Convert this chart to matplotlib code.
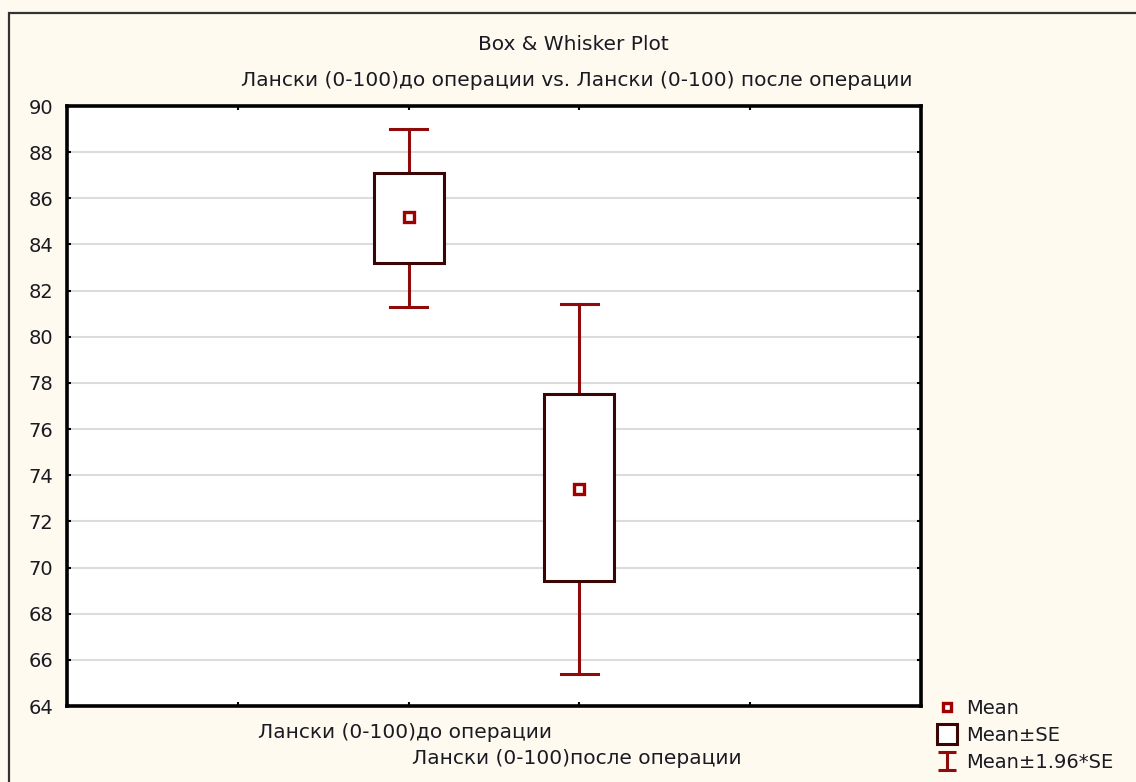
import matplotlib.pyplot as plt
from matplotlib.lines import Line2D
from matplotlib.path import Path
from matplotlib.patches import Rectangle

# values
labels = ['Лански (0-100)до операции', 'Лански (0-100)после операции']
positions = [2, 3]
means = [85.2, 73.4]
se_low = [83.2, 69.4]
se_high = [87.1, 77.5]
ci_low = [81.3, 65.4]
ci_high = [89.0, 81.4]
y_ticks = [64, 66, 68, 70, 72, 74, 76, 78, 80, 82, 84, 86, 88, 90]

bg = '#fffaf0'
red = '#8f0a0a'
dark = '#3a0505'
txt = '#1a1a22'

plt.rcParams['font.family'] = ['DejaVu Sans']
fig = plt.figure(figsize=(11.36, 7.82), dpi=100, facecolor=bg)

# outer frame of the chart window (runs off the right and bottom)
fig.patches.append(Rectangle((9 / 1136, -0.1), 1.2, 1 - 13 / 782 + 0.1,
                             transform=fig.transFigure, fill=False,
                             edgecolor='#333333', lw=1.6, zorder=0))

ax = fig.add_axes([67 / 1136, 76 / 782, 854 / 1136, 600 / 782])
ax.set_facecolor('white')

box_w = 0.41
cap_w = 0.22
for x, m, sl, sh, cl, ch in zip(positions, means, se_low, se_high, ci_low, ci_high):
    # whiskers
    ax.plot([x, x], [sh, ch], color=red, lw=2.2, zorder=3)
    ax.plot([x, x], [cl, sl], color=red, lw=2.2, zorder=3)
    ax.plot([x - cap_w / 2, x + cap_w / 2], [ch, ch], color=red, lw=2.2, zorder=3)
    ax.plot([x - cap_w / 2, x + cap_w / 2], [cl, cl], color=red, lw=2.2, zorder=3)
    # box
    ax.add_patch(Rectangle((x - box_w / 2, sl), box_w, sh - sl, facecolor='white',
                           edgecolor=dark, lw=2.2, zorder=4))
    # mean
    ax.plot(x, m, marker='s', ms=7.5, mfc='white', mec='#a00000', mew=2.4,
            ls='none', zorder=5)

ax.set_xlim(0, 5)
ax.set_ylim(64, 90)
ax.set_yticks(y_ticks)
ax.set_xticks([1, 2, 3, 4])
ax.set_xticklabels(['', '', '', ''])
ax.yaxis.grid(True, color='#dcdcdc', lw=1.5)
ax.set_axisbelow(True)
ax.tick_params(direction='in', length=3, width=1.5, color='black',
               top=True, right=True, labelsize=14, labelcolor=txt, pad=10)
for s in ax.spines.values():
    s.set_linewidth(2.6)
    s.set_color('black')

# staggered category labels
fig.text(405 / 1136, 1 - 733 / 782, labels[0], ha='center', va='center',
         fontsize=14.5, color=txt)
fig.text(577 / 1136, 1 - 758 / 782, labels[1], ha='center', va='center',
         fontsize=14.5, color=txt)

# titles
fig.text(573 / 1136, 1 - 44 / 782, 'Box & Whisker Plot', ha='center', va='center',
         fontsize=14.5, color=txt)
fig.text(577 / 1136, 1 - 80 / 782,
         'Лански (0-100)до операции vs. Лански (0-100) после операции',
         ha='center', va='center', fontsize=14.5, color=txt)

# legend
ibeam = Path([(-1, 1), (1, 1), (0, 1), (0, -1), (-1, -1), (1, -1)],
             [Path.MOVETO, Path.LINETO, Path.MOVETO, Path.LINETO, Path.MOVETO, Path.LINETO])
handles = [
    Line2D([], [], marker='s', ms=6, mfc='white', mec='#a00000', mew=2.4, ls='none'),
    Line2D([], [], marker='s', ms=14, mfc='white', mec=dark, mew=2.2, ls='none'),
    Line2D([], [], marker=ibeam, ms=13, mfc='none', mec=red, mew=2.2, ls='none'),
]
leg = fig.legend(handles, ['Mean', 'Mean±SE', 'Mean±1.96*SE'], loc='upper left',
                 bbox_to_anchor=(934 / 1136, 1 - 699 / 782), frameon=False,
                 fontsize=14, handlelength=1.3, handletextpad=0.35, labelspacing=0.4,
                 borderpad=0, borderaxespad=0)
for t in leg.get_texts():
    t.set_color(txt)

plt.savefig('out.png', dpi=100, facecolor=bg)
